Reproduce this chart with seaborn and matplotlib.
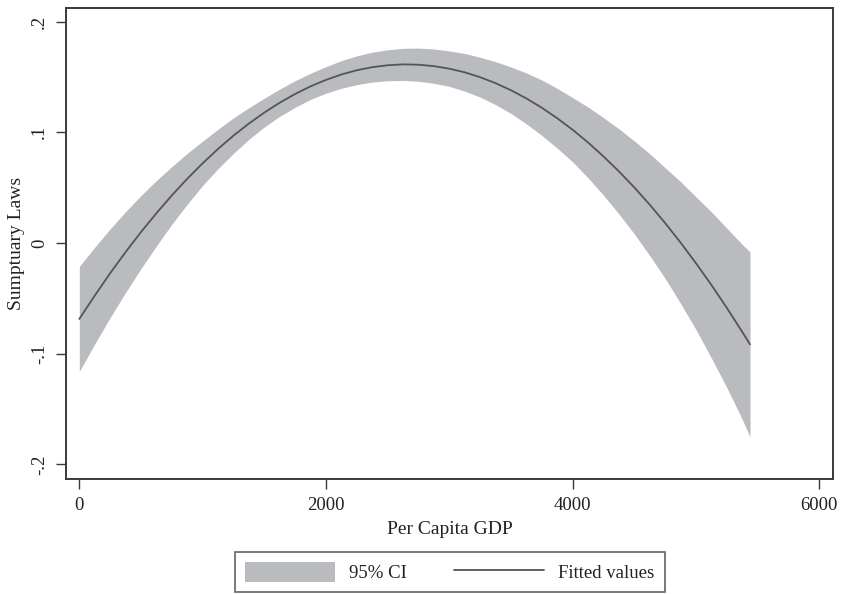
import matplotlib
matplotlib.use("Agg")
import matplotlib.pyplot as plt
import seaborn as sns
import pandas as pd
from matplotlib.patches import Patch
from matplotlib.lines import Line2D

# Per capita GDP grid for the quadratic fit
gdp = [0, 125, 250, 375, 500, 625, 750, 875, 1000, 1125, 1250, 1375, 1500,
       1625, 1750, 1875, 2000, 2125, 2250, 2375, 2500, 2625, 2750, 2875,
       3000, 3125, 3250, 3375, 3500, 3625, 3750, 3875, 4000, 4125, 4250,
       4375, 4500, 4625, 4750, 4875, 5000, 5125, 5250, 5375, 5437]

# Fitted values of sumptuary laws
fitted = [-0.0686, -0.0475, -0.0273, -0.0082, 0.0099, 0.0269, 0.0430, 0.0580,
          0.0720, 0.0850, 0.0970, 0.1079, 0.1178, 0.1267, 0.1346, 0.1415,
          0.1473, 0.1522, 0.1560, 0.1588, 0.1605, 0.1613, 0.1610, 0.1597,
          0.1574, 0.1541, 0.1497, 0.1443, 0.1379, 0.1305, 0.1221, 0.1126,
          0.1022, 0.0907, 0.0781, 0.0646, 0.0501, 0.0345, 0.0179, 0.0003,
          -0.0184, -0.0380, -0.0587, -0.0804, -0.0915]

# 95% confidence interval bounds
ci_lower = [-0.1160, -0.0912, -0.0673, -0.0447, -0.0231, -0.0026, 0.0170,
            0.0350, 0.0520, 0.0672, 0.0810, 0.0936, 0.1048, 0.1144, 0.1226,
            0.1297, 0.1353, 0.1397, 0.1430, 0.1453, 0.1465, 0.1468, 0.1460,
            0.1442, 0.1414, 0.1371, 0.1317, 0.1249, 0.1169, 0.1075, 0.0971,
            0.0856, 0.0732, 0.0587, 0.0431, 0.0261, 0.0081, -0.0115, -0.0321,
            -0.0547, -0.0784, -0.1040, -0.1307, -0.1594, -0.1750]
ci_upper = [-0.0212, -0.0038, 0.0127, 0.0283, 0.0429, 0.0564, 0.0690, 0.0810,
            0.0920, 0.1028, 0.1130, 0.1222, 0.1308, 0.1390, 0.1466, 0.1533,
            0.1593, 0.1647, 0.1690, 0.1723, 0.1745, 0.1758, 0.1760, 0.1752,
            0.1734, 0.1711, 0.1677, 0.1637, 0.1589, 0.1535, 0.1471, 0.1396,
            0.1312, 0.1227, 0.1131, 0.1031, 0.0921, 0.0805, 0.0679, 0.0553,
            0.0416, 0.0280, 0.0133, -0.0014, -0.0080]

x_ticks = [0, 2000, 4000, 6000]
x_tick_labels = ["0", "2000", "4000", "6000"]
y_ticks = [0.2, 0.1, 0.0, -0.1, -0.2]
y_tick_labels = [".2", ".1", "0", "-.1", "-.2"]

df = pd.DataFrame({"gdp": gdp, "fitted": fitted,
                   "lo": ci_lower, "hi": ci_upper})

sns.set_theme(style="ticks")
plt.rcParams["font.family"] = ["Liberation Serif", "DejaVu Serif"]

band_color = "#babbbf"
line_color = "#555555"
frame_color = "#3a3a3a"

fig = plt.figure(figsize=(8.43, 5.94), dpi=100)
ax = fig.add_axes([66 / 843, 1 - 479 / 594, (833 - 66) / 843, (479 - 8) / 594])

ax.fill_between(df["gdp"], df["lo"], df["hi"], color=band_color,
                linewidth=0, zorder=1)
sns.lineplot(data=df, x="gdp", y="fitted", ax=ax, color=line_color,
             linewidth=1.3, zorder=2, legend=False)

ax.set_xlim(-108, 6110)
ax.set_ylim(-0.2131, 0.2122)

ax.set_xticks(x_ticks)
ax.set_xticklabels(x_tick_labels)
ax.set_yticks(y_ticks)
ax.set_yticklabels(y_tick_labels, rotation=90, va="center")

ax.tick_params(axis="both", direction="out", length=7, width=1.0,
               color=frame_color, labelsize=13.5, labelcolor="#222222", pad=6)

for side in ["left", "right", "top", "bottom"]:
    ax.spines[side].set_visible(True)
    ax.spines[side].set_color(frame_color)
    ax.spines[side].set_linewidth(1.4)

ax.set_xlabel("Per Capita GDP", fontsize=14, color="#222222", labelpad=5)
ax.set_ylabel("Sumptuary Laws", fontsize=14, color="#222222", labelpad=4)

handles = [Patch(facecolor=band_color, edgecolor="none"),
           Line2D([0], [0], color=line_color, linewidth=1.3)]
leg = fig.legend(handles, ["95% CI", "Fitted values"], ncol=2,
                 loc="center", bbox_to_anchor=(450 / 843, 1 - 572 / 594),
                 fontsize=13.5, frameon=True, fancybox=False,
                 handlelength=4.8, handleheight=1.25, handletextpad=0.75,
                 columnspacing=2.5, borderpad=0.55, labelcolor="#222222")
leg.get_frame().set_edgecolor(frame_color)
leg.get_frame().set_linewidth(1.2)

fig.savefig("out.png", dpi=100, facecolor="white")
